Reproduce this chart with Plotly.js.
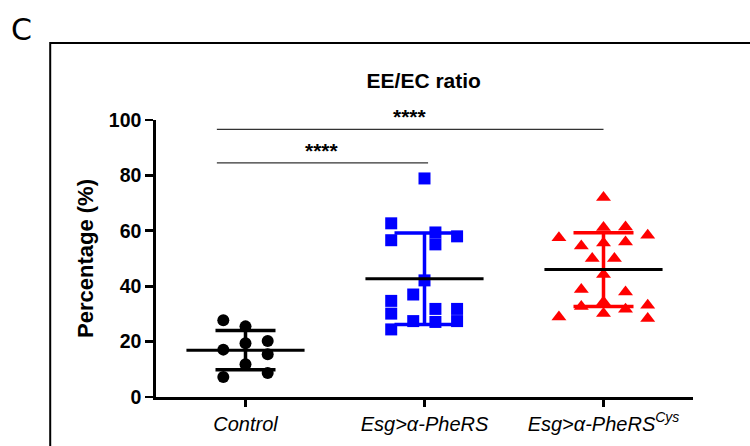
<!DOCTYPE html>
<html>
<head>
<meta charset="utf-8">
<script src="https://cdn.plot.ly/plotly-3.0.1.min.js"></script>
<style>html,body{margin:0;padding:0;background:#fff;}#chart{width:750px;height:446px;}</style>
</head>
<body>
<div id="chart"></div>
<script>
// ---- data ----
var categories = ['Control', 'Esg>α-PheRS', 'Esg>α-PheRS<sup>Cys</sup>'];
var tickLabels = ['<i>Control</i>', '<i>Esg>α-PheRS</i>', '<i>Esg>α-PheRS<sup>Cys</sup></i>'];

var controlValues = [27.7, 25.5, 17.1, 19.4, 20.2, 15.4, 11.8, 7.2, 8.7];
var controlJitter = [-0.124, 0, -0.124, 0, 0.124, 0.124, 0, -0.124, 0.124];

var pheRSValues = [78.9, 62.7, 56.6, 59.4, 55.1, 58.0, 42.1, 37.0, 34.7, 30.1, 24.4, 27.4, 31.8, 27.1, 31.8, 27.4];
var pheRSJitter = [0, -0.186, -0.186, 0.061, 0.061, 0.182, 0, -0.063, -0.186, -0.186, -0.186, -0.063, 0.061, 0.061, 0.182, 0.182];

var cysValues = [72.0, 57.5, 61.2, 61.4, 58.4, 54.5, 55.6, 56.0, 50.0, 50.0, 44.2, 38.8, 37.9, 32.7, 34.3, 31.7, 33.1, 28.9, 30.1, 28.3];
var cysJitter = [0, -0.249, 0, 0.123, 0.247, -0.124, 0, 0.123, -0.063, 0.061, 0, -0.124, 0.123, -0.124, 0, 0.123, 0.247, -0.249, 0, 0.247];

var groupMeans = [16.9, 42.7, 46.0];
var groupSD = [7.1, 16.5, 13.3];

var yTicks = [0, 20, 40, 60, 80, 100];

// ---- build chart ----
var FONT = 'Liberation Sans, Arial, sans-serif';
var colors = ['#000000', '#0000ff', '#ff0000'];
var symbols = ['circle', 'square', 'triangle-up'];
var values = [controlValues, pheRSValues, cysValues];
var jitters = [controlJitter, pheRSJitter, cysJitter];

var traces = [];
// error bars (SD)
for (var g = 0; g < 3; g++) {
  traces.push({
    type: 'scatter', mode: 'markers', x: [g], y: [groupMeans[g]],
    marker: {size: 1, opacity: 0},
    error_y: {type: 'data', array: [groupSD[g]], visible: true, width: 30, thickness: 3.5, color: colors[g]},
    hoverinfo: 'skip', showlegend: false
  });
}
// points
for (var g = 0; g < 3; g++) {
  traces.push({
    type: 'scatter', mode: 'markers',
    x: values[g].map(function (v, i) { return g + jitters[g][i]; }),
    y: values[g],
    marker: {symbol: symbols[g], size: g === 2 ? 13 : 12, color: colors[g], line: {width: 0}},
    showlegend: false
  });
}
// mean lines
for (var g = 0; g < 3; g++) {
  traces.push({
    type: 'scatter', mode: 'lines', x: [g - 0.33, g + 0.33], y: [groupMeans[g], groupMeans[g]],
    line: {color: '#000', width: 3}, hoverinfo: 'skip', showlegend: false
  });
}

var layout = {
  width: 750, height: 446,
  margin: {l: 156, r: 57, t: 120, b: 49},
  paper_bgcolor: '#fff', plot_bgcolor: '#fff',
  font: {family: FONT, color: '#000'},
  showlegend: false,
  title: {text: '<b>EE/EC ratio</b>', font: {family: FONT, size: 21, color: '#000'}, x: 0.565, xanchor: 'center', y: 0.82, yanchor: 'middle'},
  xaxis: {
    range: [-0.5, 2.5], tickvals: [0, 1, 2], ticktext: tickLabels,
    showline: true, linecolor: '#000', linewidth: 2.7, showgrid: false, zeroline: false,
    ticks: 'outside', ticklen: 7, tickwidth: 2.7, tickcolor: '#000',
    tickfont: {family: FONT, size: 20, color: '#000'}
  },
  yaxis: {
    range: [0, 100], tickvals: yTicks, ticktext: yTicks.map(function (t) { return '<b>' + t + '</b>'; }),
    showline: true, linecolor: '#000', linewidth: 2.7, showgrid: false, zeroline: false,
    ticks: 'outside', ticklen: 8, tickwidth: 2.7, tickcolor: '#000',
    tickfont: {family: FONT, size: 19.5, color: '#000'},
    title: {text: '<b>Percentage (%)</b>', font: {family: FONT, size: 22, color: '#000'}, standoff: 10}
  },
  shapes: [
    {type: 'line', xref: 'x', yref: 'y', x0: -0.16, x1: 2.0, y0: 96.6, y1: 96.6, line: {color: '#333', width: 1.3}},
    {type: 'line', xref: 'x', yref: 'y', x0: -0.16, x1: 1.02, y0: 84.5, y1: 84.5, line: {color: '#333', width: 1.3}},
    {type: 'rect', xref: 'paper', yref: 'paper', x0: -0.197, x1: 1.2, y0: -0.3, y1: 1.278, line: {color: '#000', width: 2}, fillcolor: 'rgba(0,0,0,0)', layer: 'below'}
  ],
  annotations: [
    {xref: 'x', yref: 'y', x: 0.92, y: 96.6, yanchor: 'bottom', yshift: -1, text: '<b>****</b>', showarrow: false, font: {family: FONT, size: 21, color: '#000'}},
    {xref: 'x', yref: 'y', x: 0.43, y: 84.5, yanchor: 'bottom', yshift: -1, text: '<b>****</b>', showarrow: false, font: {family: FONT, size: 21, color: '#000'}},
    {xref: 'paper', yref: 'paper', x: -0.25, y: 1.325, xanchor: 'center', yanchor: 'middle', text: 'C', showarrow: false, font: {family: 'DejaVu Sans, sans-serif', size: 30, color: '#000'}}
  ]
};

Plotly.newPlot('chart', traces, layout, {displayModeBar: false, staticPlot: true});
</script>
</body>
</html>
